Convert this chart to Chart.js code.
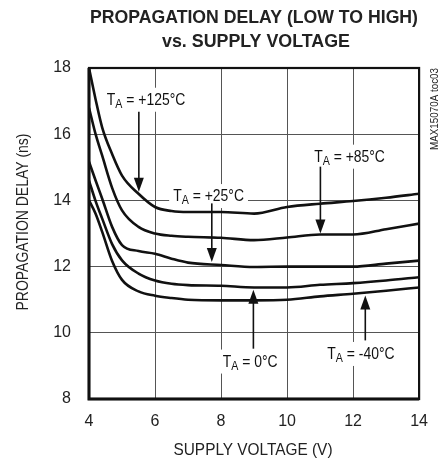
<!DOCTYPE html>
<html>
<head>
<meta charset="utf-8">
<script src="https://cdn.jsdelivr.net/npm/chart.js@4/dist/chart.umd.min.js"></script>
<style>
  body { margin: 0; background: #fff; }
  #wrap { width: 441px; height: 461px; }
</style>
</head>
<body>
<div id="wrap"><canvas id="chart" width="441" height="461"></canvas></div>
<script>
'use strict';
// supply voltage (V) sample points
var voltage = [4, 4.2, 4.4, 4.7, 5, 5.5, 6, 6.5, 7, 8, 9, 10, 11, 12, 13, 14];
// propagation delay (ns) per ambient temperature
var delay125 = [18, 17.05, 16.2, 15.4, 14.75, 14.2, 13.8, 13.68, 13.65, 13.65, 13.6, 13.8, 13.9, 13.98, 14.08, 14.2];
var delay85 = [16.8, 16.0, 15.35, 14.38, 13.7, 13.2, 13.0, 12.93, 12.9, 12.87, 12.8, 12.88, 12.97, 12.97, 13.13, 13.3];
var delay25 = [15.17, 14.6, 14.05, 13.2, 12.65, 12.47, 12.39, 12.24, 12.12, 12.05, 11.99, 12.0, 12.0, 12.0, 12.09, 12.18];
var delay0 = [14.6, 13.98, 13.45, 12.68, 12.19, 11.79, 11.58, 11.48, 11.44, 11.42, 11.37, 11.37, 11.45, 11.5, 11.58, 11.68];
var delayM40 = [14.0, 13.6, 13.05, 12.17, 11.6, 11.25, 11.12, 11.05, 11.0, 10.98, 10.98, 11.0, 11.1, 11.18, 11.27, 11.37];
var xTicks = [4, 6, 8, 10, 12, 14];
var yTicks = [8, 10, 12, 14, 16, 18];

// callout labels: temp text, label pos (data units), arrow x, arrow from/to y
var callouts = [
  { temp: ' = +125°C', lx: 4.54, ly: 16.89, ax: 5.51, y0: 16.68, y1: 14.26 },
  { temp: ' = +25°C', lx: 6.55, ly: 13.98, ax: 7.72, y0: 13.91, y1: 12.14 },
  { temp: ' = +85°C', lx: 10.82, ly: 15.17, ax: 11.01, y0: 15.02, y1: 13.0 },
  { temp: ' = 0°C', lx: 8.05, ly: 8.98, ax: 8.98, y0: 9.52, y1: 11.3 },
  { temp: ' = -40°C', lx: 11.22, ly: 9.21, ax: 12.37, y0: 9.77, y1: 11.13 }
];

var FONT = '"Liberation Sans", Arial, sans-serif';
var LABEL_SQUEEZE = 0.82; // the datasheet uses a condensed face

// draw text squeezed so it takes the given width
function fitText(ctx, text, cx, y, width) {
  var w = ctx.measureText(text).width;
  ctx.save();
  ctx.translate(cx, y);
  ctx.scale(width / w, 1);
  ctx.textAlign = 'center';
  ctx.fillText(text, 0, 0);
  ctx.restore();
}

function toPoints(ys) {
  return voltage.map(function (v, i) { return { x: v, y: ys[i] }; });
}

function curve(ys) {
  return {
    data: toPoints(ys),
    borderColor: '#111',
    borderWidth: 2.6,
    pointRadius: 0,
    fill: false,
    tension: 0.4,
    cubicInterpolationMode: 'monotone'
  };
}

function labelParts(ctx, c) {
  ctx.font = '17px ' + FONT;
  var w1 = ctx.measureText('T').width;
  ctx.font = '13px ' + FONT;
  var w2 = ctx.measureText('A').width;
  ctx.font = '17px ' + FONT;
  var w3 = ctx.measureText(c.temp).width;
  return { w1: w1, w2: w2, w3: w3, total: (w1 + w2 + w3) * LABEL_SQUEEZE };
}

var decorPlugin = {
  id: 'decor',
  beforeDatasetsDraw: function (chart) {
    var ctx = chart.ctx;
    var xs = chart.scales.x, ys = chart.scales.y;
    ctx.save();
    // white boxes behind callout text hide the grid
    callouts.forEach(function (c) {
      var x = xs.getPixelForValue(c.lx), y = ys.getPixelForValue(c.ly);
      var m = labelParts(ctx, c);
      ctx.fillStyle = '#fff';
      ctx.fillRect(x - 4, y - 17, m.total + 8, 24);
    });
    ctx.restore();
  },
  afterDraw: function (chart) {
    var ctx = chart.ctx;
    var a = chart.chartArea;
    var xs = chart.scales.x, ys = chart.scales.y;
    ctx.save();
    // frame
    ctx.strokeStyle = '#111';
    ctx.lineWidth = 2.2;
    ctx.strokeRect(a.left, a.top, a.right - a.left, a.bottom - a.top);
    ctx.lineWidth = 3;
    ctx.beginPath();
    ctx.moveTo(a.left, a.top);
    ctx.lineTo(a.left, a.bottom);
    ctx.lineTo(a.right, a.bottom);
    ctx.stroke();

    // callouts
    callouts.forEach(function (c) {
      var x = xs.getPixelForValue(c.lx), y = ys.getPixelForValue(c.ly);
      var m = labelParts(ctx, c);
      ctx.fillStyle = '#111';
      ctx.textBaseline = 'alphabetic';
      ctx.textAlign = 'left';
      ctx.save();
      ctx.translate(x, y);
      ctx.scale(LABEL_SQUEEZE, 1);
      ctx.font = '17px ' + FONT;
      ctx.fillText('T', 0, 0);
      ctx.font = '13px ' + FONT;
      ctx.fillText('A', m.w1, 3);
      ctx.font = '17px ' + FONT;
      ctx.fillText(c.temp, m.w1 + m.w2, 0);
      ctx.restore();

      var ax = xs.getPixelForValue(c.ax);
      var p0 = ys.getPixelForValue(c.y0), p1 = ys.getPixelForValue(c.y1);
      var dir = p1 > p0 ? 1 : -1;
      ctx.strokeStyle = '#111';
      ctx.lineWidth = 1.6;
      ctx.beginPath();
      ctx.moveTo(ax, p0);
      ctx.lineTo(ax, p1 - dir * 12);
      ctx.stroke();
      ctx.beginPath();
      ctx.moveTo(ax, p1);
      ctx.lineTo(ax - 5, p1 - dir * 14);
      ctx.lineTo(ax + 5, p1 - dir * 14);
      ctx.closePath();
      ctx.fill();
    });

    // titles
    ctx.fillStyle = '#222';
    ctx.textBaseline = 'alphabetic';
    ctx.font = 'bold 19px ' + FONT;
    fitText(ctx, 'PROPAGATION DELAY (LOW TO HIGH)', 254, 23, 328);
    fitText(ctx, 'vs. SUPPLY VOLTAGE', 256, 47, 188);

    ctx.font = '17px ' + FONT;
    fitText(ctx, 'SUPPLY VOLTAGE (V)', 253, 455, 159);

    ctx.save();
    ctx.translate(28, 222);
    ctx.rotate(-Math.PI / 2);
    fitText(ctx, 'PROPAGATION DELAY (ns)', 0, 0, 177);
    ctx.restore();

    ctx.save();
    ctx.translate(438, 109);
    ctx.rotate(-Math.PI / 2);
    ctx.font = '10px ' + FONT;
    fitText(ctx, 'MAX15070A toc03', 0, 0, 82);
    ctx.restore();

    ctx.restore();
  }
};

var ctx = document.getElementById('chart').getContext('2d');
var chart = new Chart(ctx, {
  type: 'line',
  data: {
    datasets: [curve(delay125), curve(delay85), curve(delay25), curve(delay0), curve(delayM40)]
  },
  options: {
    responsive: false,
    animation: false,
    events: [],
    layout: { padding: { left: 0, top: 68, right: 21, bottom: 0 } },
    plugins: { legend: { display: false }, tooltip: { enabled: false }, title: { display: false } },
    scales: {
      x: {
        type: 'linear',
        min: 4,
        max: 14,
        afterBuildTicks: function (s) { s.ticks = xTicks.map(function (v) { return { value: v }; }); },
        afterFit: function (s) { s.height = 62; },
        grid: { color: '#555', lineWidth: 1, drawTicks: false },
        border: { display: false },
        ticks: { color: '#222', padding: 13, font: { family: FONT, size: 16 } }
      },
      y: {
        type: 'linear',
        min: 8,
        max: 18,
        afterBuildTicks: function (s) { s.ticks = yTicks.map(function (v) { return { value: v }; }); },
        afterFit: function (s) { s.width = 89; },
        grid: { color: '#555', lineWidth: 1, drawTicks: false },
        border: { display: false },
        ticks: { color: '#222', padding: 18, font: { family: FONT, size: 16 } }
      }
    }
  },
  plugins: [decorPlugin]
});
</script>
</body>
</html>
